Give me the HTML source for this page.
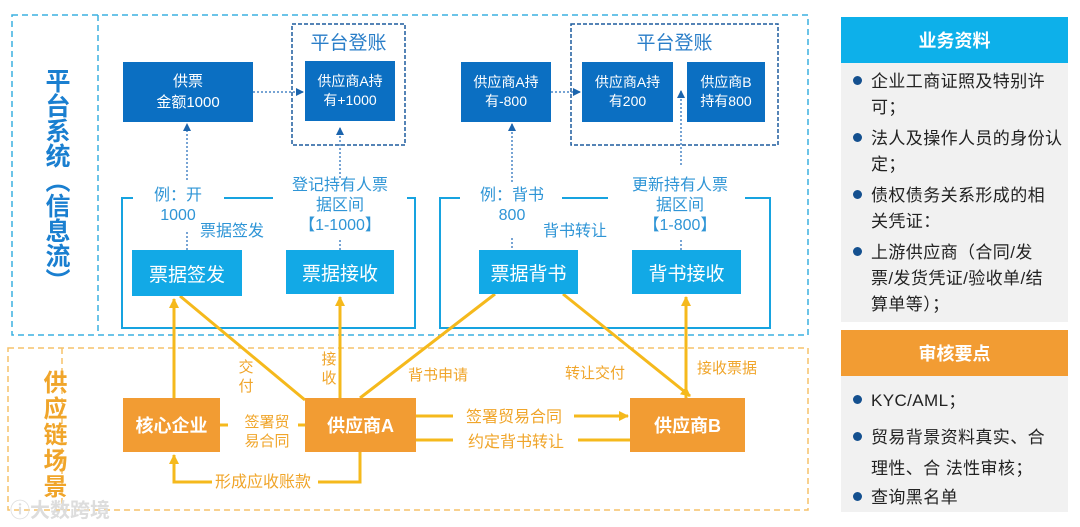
<!DOCTYPE html>
<html><head><meta charset="utf-8"><style>
body{margin:0;width:1080px;height:527px;background:#fff;position:relative;overflow:hidden;font-family:"Liberation Sans","Noto Sans CJK SC",sans-serif}
.a{position:absolute}
.db{position:absolute;background:#0b6fc2;color:#fff;font-size:14px;line-height:19px;text-align:center;display:flex;align-items:center;justify-content:center}
.lb{position:absolute;background:#12a9e6;color:#fff;font-size:19px;display:flex;align-items:center;justify-content:center}
.ob{position:absolute;background:#f29c33;color:#fff;font-size:18px;font-weight:bold;display:flex;align-items:center;justify-content:center}
.bt{position:absolute;color:#2f95d6;font-size:16px;line-height:20px;text-align:center}
.ot{position:absolute;color:#f0a52a;font-size:15px;line-height:19px;text-align:center}
.li{position:absolute;left:853px;font-size:17px;letter-spacing:0.4px;color:#222;line-height:26px;width:225px;white-space:nowrap}
.dot{display:inline-block;width:9px;height:9px;border-radius:50%;background:#14508f;margin-right:9px;vertical-align:2px}
.ind{padding-left:18px}
</style></head><body>
<svg class="a" style="left:0;top:0" width="1080" height="527">
<defs>
<marker id="bm" markerWidth="8" markerHeight="8" refX="7" refY="4" orient="auto" markerUnits="userSpaceOnUse"><path d="M0,0L8,4L0,8z" fill="#1b64ad"/></marker>
<marker id="om" markerWidth="10" markerHeight="10" refX="9" refY="5" orient="auto" markerUnits="userSpaceOnUse"><path d="M0,0L10,5L0,10z" fill="#f5b91c"/></marker>
</defs>
<g fill="none" stroke="#3bb0e0" stroke-width="1.5" stroke-dasharray="6,4">
<rect x="12" y="15" width="796" height="320"/>
<line x1="98" y1="15" x2="98" y2="335"/>
</g>
<g fill="none" stroke="#f5c26a" stroke-width="1.5" stroke-dasharray="6,4">
<rect x="8" y="348" width="800" height="162"/>
<line x1="62" y1="348" x2="62" y2="510"/>
</g>
<g fill="none" stroke="#1d5c9e" stroke-width="1.5" stroke-dasharray="4,2">
<rect x="292" y="24" width="113" height="121"/>
<rect x="571" y="24" width="207" height="121"/>
</g>
<g fill="none" stroke="#17a3e0" stroke-width="2">
<path d="M133,198H122V328H415V198H407"/><line x1="224" y1="198" x2="273" y2="198"/>
<path d="M460,198H440V328H770V198H745"/><line x1="562" y1="198" x2="608" y2="198"/>
</g>
<g stroke="#4a86c5" stroke-width="1.5" stroke-dasharray="2,2" marker-end="url(#bm)">
<line x1="253" y1="92" x2="303" y2="92"/>
<line x1="551" y1="92" x2="580" y2="92"/>
<line x1="187" y1="180" x2="187" y2="124"/>
<line x1="340" y1="178" x2="340" y2="128"/>
<line x1="512" y1="182" x2="512" y2="124"/>
<line x1="681" y1="165" x2="681" y2="91"/>
</g>
<g stroke="#4a86c5" stroke-width="1.5" stroke-dasharray="2,2">
<line x1="187" y1="232" x2="187" y2="250"/><line x1="340" y1="240" x2="340" y2="250"/>
<line x1="512" y1="238" x2="512" y2="250"/><line x1="681" y1="240" x2="681" y2="250"/>
</g>
<g stroke="#f5b91c" stroke-width="3" fill="none">
<line x1="174" y1="398" x2="174" y2="299" marker-end="url(#om)"/>
<line x1="180" y1="296" x2="305" y2="400"/>
<line x1="340" y1="398" x2="340" y2="297" marker-end="url(#om)"/>
<line x1="360" y1="398" x2="495" y2="294"/>
<line x1="563" y1="294" x2="690" y2="396" marker-end="url(#om)"/>
<line x1="686" y1="398" x2="686" y2="297" marker-end="url(#om)"/>
<line x1="416" y1="416" x2="453" y2="416"/>
<line x1="574" y1="416" x2="628" y2="416" marker-end="url(#om)"/>
<line x1="416" y1="440" x2="453" y2="440"/>
<line x1="578" y1="440" x2="630" y2="440"/>
<line x1="220" y1="425" x2="228" y2="425"/><line x1="298" y1="425" x2="305" y2="425"/>
<path d="M360,452V482H318"/><path d="M212,482H174V455" marker-end="url(#om)"/>
</g>
</svg>
<div class="a" style="left:41px;top:68px;writing-mode:vertical-rl;color:#1a7fd0;font-size:25px;font-weight:bold;line-height:30px;letter-spacing:0">平台系统（信息流）</div>
<div class="a" style="left:38px;top:370px;writing-mode:vertical-rl;color:#f0a52a;font-size:24px;font-weight:bold;line-height:28px;letter-spacing:2px">供应链场景</div>
<div class="a" style="left:10px;top:494px;color:#ddd;font-size:20px;font-weight:bold">ⓘ大数跨境</div>

<div class="a" style="left:292px;top:28px;width:113px;text-align:center;color:#2a7ec8;font-size:19px">平台登账</div>
<div class="a" style="left:571px;top:28px;width:207px;text-align:center;color:#2a7ec8;font-size:19px">平台登账</div>
<div class="db" style="left:123px;top:62px;width:130px;height:60px;font-size:15px;line-height:21px">供票<br>金额1000</div>
<div class="db" style="left:305px;top:61px;width:90px;height:60px">供应商A持<br>有+1000</div>
<div class="db" style="left:461px;top:62px;width:90px;height:60px">供应商A持<br>有-800</div>
<div class="db" style="left:582px;top:62px;width:91px;height:60px">供应商A持<br>有200</div>
<div class="db" style="left:687px;top:62px;width:78px;height:60px">供应商B<br>持有800</div>

<div class="bt" style="left:138px;top:186px;width:80px">例：开<br>1000</div>
<div class="bt" style="left:200px;top:222px">票据签发</div>
<div class="bt" style="left:280px;top:176px;width:120px;line-height:20px">登记持有人票<br>据区间<br>【1-1000】</div>
<div class="bt" style="left:468px;top:186px;width:88px">例：背书<br>800</div>
<div class="bt" style="left:543px;top:222px">背书转让</div>
<div class="bt" style="left:620px;top:176px;width:120px;line-height:20px">更新持有人票<br>据区间<br>【1-800】</div>

<div class="lb" style="left:132px;top:250px;width:110px;height:46px">票据签发</div>
<div class="lb" style="left:286px;top:250px;width:108px;height:44px">票据接收</div>
<div class="lb" style="left:479px;top:250px;width:99px;height:44px">票据背书</div>
<div class="lb" style="left:632px;top:250px;width:109px;height:44px">背书接收</div>

<div class="ob" style="left:123px;top:398px;width:97px;height:54px">核心企业</div>
<div class="ob" style="left:305px;top:398px;width:111px;height:54px">供应商A</div>
<div class="ob" style="left:630px;top:398px;width:115px;height:54px">供应商B</div>

<div class="ot" style="left:237px;top:358px;width:18px">交付</div>
<div class="ot" style="left:320px;top:350px;width:18px">接收</div>
<div class="ot" style="left:408px;top:366px">背书申请</div>
<div class="ot" style="left:565px;top:364px">转让交付</div>
<div class="ot" style="left:697px;top:359px">接收票据</div>
<div class="ot" style="left:238px;top:413px;width:58px">签署贸<br>易合同</div>
<div class="ot" style="left:458px;top:408px;width:112px;font-size:16px">签署贸易合同</div>
<div class="ot" style="left:460px;top:433px;width:112px;font-size:16px">约定背书转让</div>
<div class="ot" style="left:215px;top:473px;font-size:16px">形成应收账款</div>

<div class="a" style="left:841px;top:17px;width:227px;height:46px;background:#0db0ea;color:#fff;font-size:18px;font-weight:bold;display:flex;align-items:center;justify-content:center">业务资料</div>
<div class="a" style="left:841px;top:63px;width:227px;height:259px;background:#f1f1f1"></div>
<div class="a" style="left:841px;top:330px;width:227px;height:46px;background:#f29c33;color:#fff;font-size:18px;font-weight:bold;display:flex;align-items:center;justify-content:center">审核要点</div>
<div class="a" style="left:841px;top:376px;width:227px;height:136px;background:#f1f1f1"></div>
<div class="li" style="top:69px"><span class="dot"></span>企业工商证照及特别许<br><span class="ind">可；</span></div>
<div class="li" style="top:126px"><span class="dot"></span>法人及操作人员的身份认<br><span class="ind">定；</span></div>
<div class="li" style="top:183px"><span class="dot"></span>债权债务关系形成的相<br><span class="ind">关凭证：</span></div>
<div class="li" style="top:240px"><span class="dot"></span>上游供应商（合同/发<br><span class="ind">票/发货凭证/验收单/结</span><br><span class="ind">算单等）；</span></div>
<div class="li" style="top:388px"><span class="dot"></span>KYC/AML；</div>
<div class="li" style="top:422px;line-height:31px"><span class="dot"></span>贸易背景资料真实、合<br><span class="ind">理性、合 法性审核；</span></div>
<div class="li" style="top:485px"><span class="dot"></span>查询黑名单</div>
</body></html>
